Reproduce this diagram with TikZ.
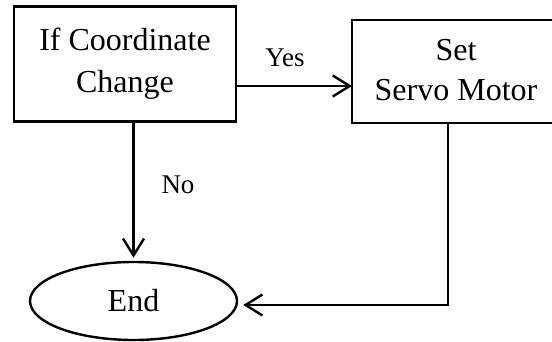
\documentclass[tikz,border=0pt]{standalone}
\usepackage{fontspec}
\setmainfont{Liberation Serif}
\usetikzlibrary{arrows.meta,shapes.geometric}

\tikzset{
  flow/.style={line width=2.4pt},
  arr/.style={flow,-{Straight Barb[length=17pt,width=21pt,line width=2.4pt]}},
  procbox/.style={draw,flow,rectangle,align=center,inner sep=0pt,
    font=\fontsize{32}{42}\selectfont},
  boxtext/.style={align=center,inner sep=0pt,font=\fontsize{32}{40}\selectfont},
  termbox/.style={draw,flow,ellipse,inner sep=0pt,
    minimum width=207pt,minimum height=78pt,font=\fontsize{32}{42}\selectfont},
  lbl/.style={anchor=base,inner sep=0pt,font=\fontsize{27}{30}\selectfont}
}

\begin{document}
\begin{tikzpicture}[x=1pt,y=-1pt]
  \useasboundingbox (0,0) rectangle (552,342);

  % decision box
  \node[procbox,minimum width=222pt,minimum height=115pt] (cond) at (125,64)
    {If Coordinate\\Change};

  % action box: only its left part lies on the page
  \node[boxtext] (servo) at (456,70) {Set\\Servo Motor};
  \coordinate (servoNW) at (352,20);
  \coordinate (servoSW) at (352,123);
  \draw[flow] (servoNW -| 560,0) -- (servoNW) -- (servoSW) -- (servoSW -| 560,0);

  % terminal
  \node[termbox] (finish) at (133.5,301) {End};

  % routing points
  \coordinate (yesrow) at (0,86);
  \coordinate (bend) at (448,305);

  % Yes branch
  \draw[arr] (cond.east |- yesrow) -- (servoNW |- yesrow);
  \node[lbl] (yeslbl) at (285,67) {Yes};

  % No branch
  \draw[arr,shorten >=3pt] (cond.south -| finish.north) -- (finish.north);
  \node[lbl] (nolbl) at (178,194) {No};

  % return from the action box
  \draw[arr,shorten >=5pt] (servoSW -| bend) -- (bend) -- (finish.east |- bend);
\end{tikzpicture}
\end{document}
